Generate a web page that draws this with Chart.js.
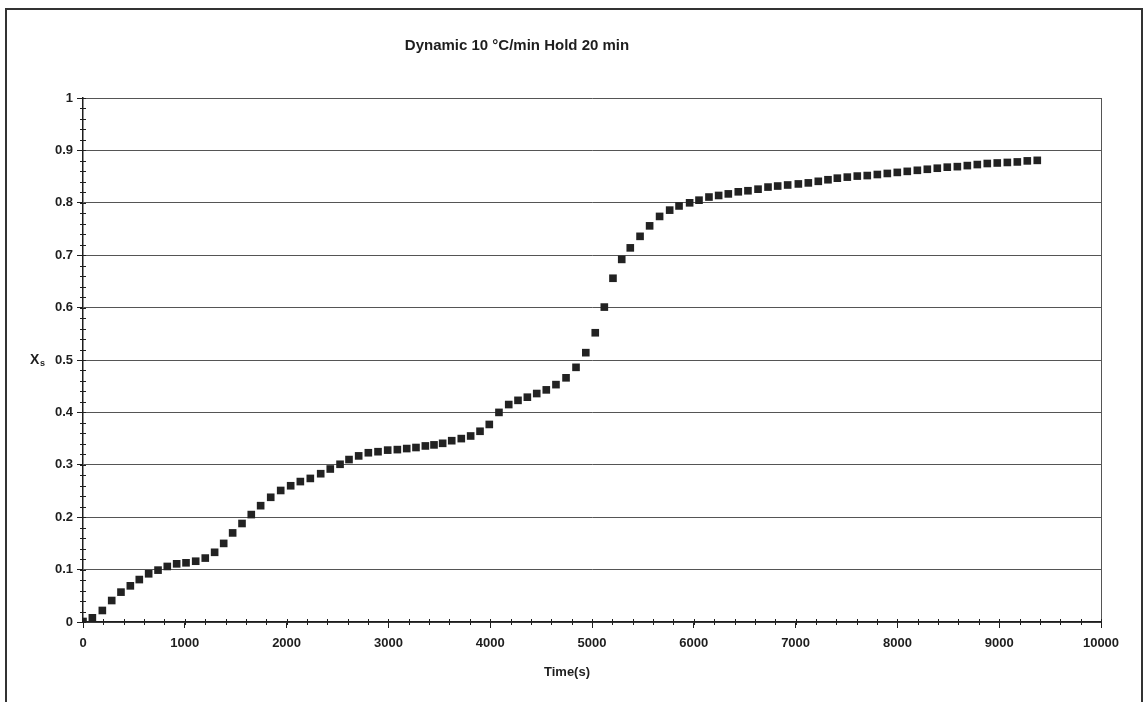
<!DOCTYPE html>
<html>
<head>
<meta charset="utf-8">
<script src="https://cdn.jsdelivr.net/npm/chart.js@4.4.0/dist/chart.umd.min.js"></script>
<style>
    html, body { margin: 0; padding: 0; background: #fff; }
    #wrap { position: relative; width: 1146px; height: 702px; }
</style>
</head>
<body>
<div id="wrap"><canvas id="chart" width="1146" height="702"></canvas></div>
<script>
// Xs versus time
const times = [
    0, 92, 190, 282, 373, 465, 553, 645, 737, 828,
    920, 1012, 1107, 1201, 1293, 1382, 1470, 1562, 1653, 1745,
    1844, 1942, 2040, 2135, 2233, 2335, 2429, 2525, 2613, 2708,
    2803, 2898, 2993, 3088, 3180, 3271, 3363, 3448, 3533, 3622,
    3716, 3808, 3900, 3991, 4086, 4182, 4273, 4365, 4457, 4551,
    4646, 4745, 4843, 4939, 5032, 5121, 5206, 5292, 5376, 5472,
    5566, 5664, 5763, 5855, 5959, 6051, 6149, 6244, 6339, 6437,
    6532, 6631, 6729, 6824, 6922, 7027, 7125, 7223, 7318, 7410,
    7508, 7606, 7704, 7803, 7901, 7999, 8097, 8196, 8294, 8392,
    8490, 8589, 8687, 8785, 8883, 8981, 9080, 9178, 9276, 9374
];
const xs = [
    0.001, 0.008, 0.022, 0.041, 0.057, 0.069, 0.081, 0.092, 0.099, 0.106,
    0.111, 0.113, 0.116, 0.122, 0.133, 0.150, 0.170, 0.188, 0.205, 0.222,
    0.238, 0.251, 0.260, 0.268, 0.274, 0.283, 0.292, 0.301, 0.310, 0.317,
    0.323, 0.325, 0.328, 0.329, 0.331, 0.333, 0.336, 0.338, 0.341, 0.346,
    0.350, 0.355, 0.364, 0.377, 0.400, 0.415, 0.423, 0.429, 0.436, 0.443,
    0.453, 0.466, 0.486, 0.514, 0.552, 0.601, 0.656, 0.692, 0.714, 0.736,
    0.756, 0.774, 0.786, 0.794, 0.800, 0.805, 0.811, 0.814, 0.817, 0.821,
    0.823, 0.826, 0.830, 0.832, 0.834, 0.836, 0.838, 0.841, 0.844, 0.847,
    0.849, 0.851, 0.852, 0.854, 0.856, 0.858, 0.860, 0.862, 0.864, 0.866,
    0.868, 0.869, 0.871, 0.873, 0.875, 0.876, 0.877, 0.878, 0.880, 0.881
];

const chartTitle = 'Dynamic 10 °C/min Hold 20 min';
const xTitle = 'Time(s)';
const yTitle = 'X';
const ySub = 's';

const FONT = '"Liberation Sans", Arial, sans-serif';
const INK = '#1e1e1e';

const points = times.map((t, i) => ({ x: t, y: xs[i] }));

// frame, plot border, minor ticks and the hand-placed titles
const decor = {
    id: 'decor',
    beforeDraw(chart) {
        const c = chart.ctx;
        c.save();
        c.fillStyle = '#fff';
        c.fillRect(0, 0, chart.width, chart.height);
        c.strokeStyle = '#333';
        c.lineWidth = 2;
        c.strokeRect(6, 9, 1136, 720);
        c.restore();
    },
    afterDraw(chart) {
        const c = chart.ctx;
        const a = chart.chartArea;
        const sx = chart.scales.x;
        const sy = chart.scales.y;
        c.save();
        c.strokeStyle = '#555';
        c.lineWidth = 1;
        c.beginPath();
        c.moveTo(a.right + 0.5, a.top);
        c.lineTo(a.right + 0.5, a.bottom);
        c.stroke();

        c.strokeStyle = INK;
        c.beginPath();
        for (let v = 0; v <= 1.0001; v += 0.02) {
            const py = Math.round(sy.getPixelForValue(v)) + 0.5;
            c.moveTo(a.left - 3, py);
            c.lineTo(a.left + 3, py);
        }
        for (let v = 0; v <= 10000; v += 200) {
            const px = Math.round(sx.getPixelForValue(v)) + 0.5;
            c.moveTo(px, a.bottom - 3);
            c.lineTo(px, a.bottom + 3);
        }
        c.stroke();

        c.fillStyle = INK;
        c.textBaseline = 'middle';
        c.textAlign = 'center';
        c.font = 'bold 15px ' + FONT;
        c.fillText(chartTitle, 517, 46);
        c.font = 'bold 13px ' + FONT;
        c.fillText(xTitle, 567, 672);
        c.textAlign = 'left';
        c.font = 'bold 14px ' + FONT;
        c.fillText(yTitle, 30, 360);
        c.font = 'bold 9px ' + FONT;
        c.fillText(ySub, 40, 364);
        c.restore();
    }
};

new Chart(document.getElementById('chart'), {
    type: 'scatter',
    data: {
        datasets: [{
            data: points,
            pointStyle: 'rect',
            pointRadius: 5.4,
            pointHoverRadius: 5.4,
            pointBackgroundColor: '#222',
            pointBorderWidth: 0,
            showLine: false
        }]
    },
    options: {
        responsive: false,
        animation: false,
        layout: { padding: { top: 98, right: 45, left: 0, bottom: 0 } },
        plugins: {
            legend: { display: false },
            title: { display: false },
            tooltip: { enabled: false }
        },
        scales: {
            x: {
                type: 'linear',
                min: 0,
                max: 10000,
                afterFit: s => { s.height = 80; },
                ticks: {
                    stepSize: 1000,
                    color: INK,
                    padding: 8,
                    maxRotation: 0,
                    font: { family: FONT, size: 13, weight: 'bold' },
                    callback: v => String(v)
                },
                grid: { drawOnChartArea: false, drawTicks: true, tickLength: 6, color: INK },
                border: { display: true, color: INK, width: 1.5 }
            },
            y: {
                type: 'linear',
                min: 0,
                max: 1,
                afterFit: s => { s.width = 83; },
                ticks: {
                    stepSize: 0.1,
                    color: INK,
                    padding: 4,
                    font: { family: FONT, size: 13, weight: 'bold' },
                    callback: v => String(Math.round(v * 10) / 10)
                },
                grid: { color: '#555', lineWidth: 1, tickLength: 6, tickColor: INK },
                border: { display: true, color: INK, width: 1.5 }
            }
        }
    },
    plugins: [decor]
});
</script>
</body>
</html>
